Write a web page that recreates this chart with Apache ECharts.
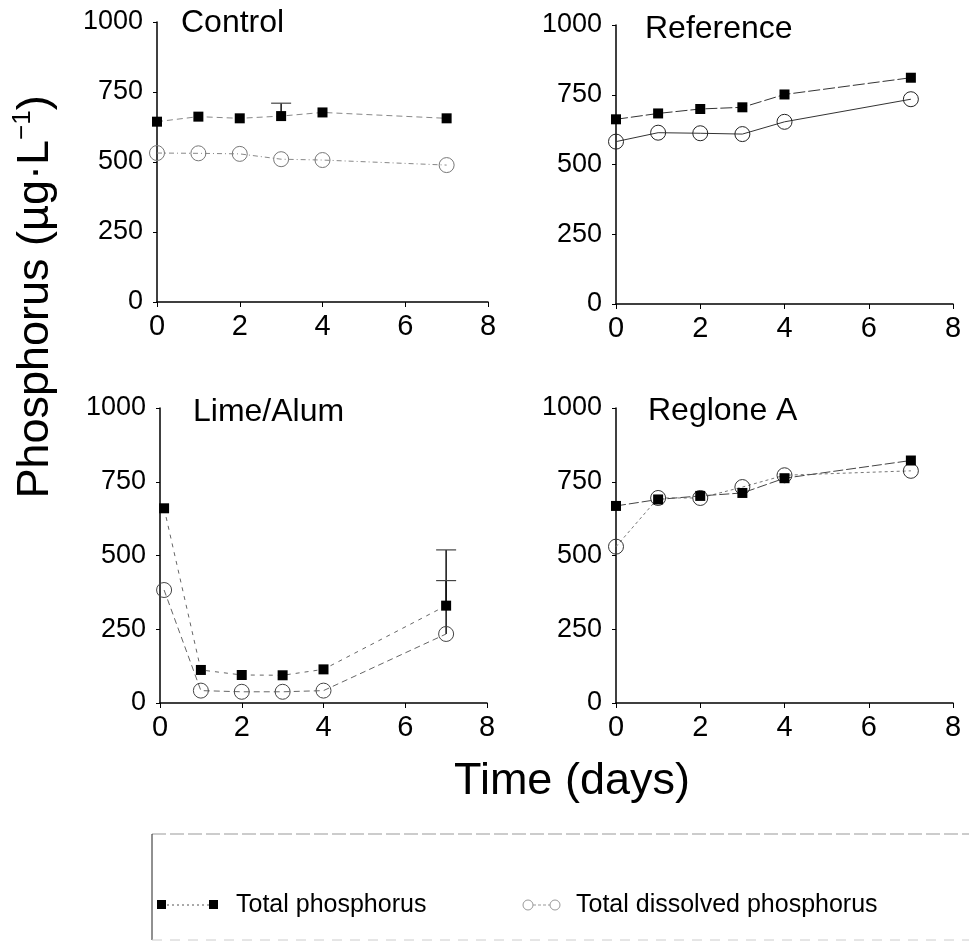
<!DOCTYPE html>
<html>
<head>
<meta charset="utf-8">
<script src="https://cdn.jsdelivr.net/npm/echarts@6/dist/echarts.min.js"></script>
<style>
html,body{margin:0;padding:0;background:#fff;}
#chart{width:969px;height:945px;}
</style>
</head>
<body>
<div id="chart"></div>
<script>
// ---- data ----
const days = [0, 1, 2, 3, 4, 7];
const limeDays = [0.1, 1, 2, 3, 4, 7];
const xTicks = [0, 2, 4, 6, 8];
const yTicks = [0, 250, 500, 750, 1000];
const panelNames = ['Control', 'Reference', 'Lime/Alum', 'Reglone A'];

const controlTP = [644, 662, 656, 664, 677, 656];
const controlTDP = [532, 531, 529, 510, 507, 489];
const referenceTP = [662, 683, 699, 705, 751, 811];
const referenceTDP = [582, 614, 612, 609, 653, 734];
const limeTP = [660, 112, 95, 94, 114, 330];
const limeTDP = [383, 42, 38, 38, 42, 234];
const regloneTP = [668, 690, 702, 712, 762, 822];
const regloneTDP = [530, 695, 695, 732, 772, 787];

// error bars: [day, mean, upper]
const controlErr = [[3, 664, 710]];
const limeErr = [[7, 330, 519], [7, 234, 415]];

const seriesNames = ['Total phosphorus', 'Total dissolved phosphorus'];

// ---- layout ----
const grids = [
  {left: 157, top: 22, width: 331, height: 280},
  {left: 616, top: 25, width: 337, height: 279},
  {left: 160, top: 408, width: 327, height: 295},
  {left: 616, top: 408, width: 337, height: 295}
];
const FONT = '"Liberation Sans", Arial, Helvetica, sans-serif';
const NARROW = '"Liberation Sans Narrow", "Liberation Sans", Arial, sans-serif';

const panels = [
  {x: days, tp: controlTP, tdp: controlTDP, err: controlErr, tpLine: {color: '#888', width: 1, type: [6, 4]}, tdpLine: {color: '#888', width: 1, type: [5, 3, 1, 3]}, circ: '#777'},
  {x: days, tp: referenceTP, tdp: referenceTDP, err: [], tpLine: {color: '#333', width: 1, type: [12, 3]}, tdpLine: {color: '#333', width: 1, type: 'solid'}, circ: '#222'},
  {x: limeDays, tp: limeTP, tdp: limeTDP, err: limeErr, tpLine: {color: '#666', width: 1, type: [4, 5]}, tdpLine: {color: '#666', width: 1, type: [6, 4]}, circ: '#444'},
  {x: days, tp: regloneTP, tdp: regloneTDP, err: [], tpLine: {color: '#444', width: 1, type: [10, 3]}, tdpLine: {color: '#777', width: 1, type: [3, 3]}, circ: '#333'}
];

const xAxes = [], yAxes = [], series = [], graphics = [];
grids.forEach((g, i) => {
  xAxes.push({
    gridIndex: i, type: 'value', min: xTicks[0], max: xTicks[xTicks.length - 1], interval: 2,
    axisLine: {show: true, onZero: false, lineStyle: {color: '#000', width: 1.5}},
    axisTick: {show: true, length: 5, lineStyle: {color: '#000', width: 1}},
    splitLine: {show: false},
    axisLabel: {color: '#000', fontSize: 29, fontFamily: FONT, margin: 10}
  });
  yAxes.push({
    gridIndex: i, type: 'value', min: yTicks[0], max: yTicks[yTicks.length - 1], interval: 250,
    axisLine: {show: true, onZero: false, lineStyle: {color: '#000', width: 1.5}},
    axisTick: {show: true, length: 4, lineStyle: {color: '#000', width: 1}},
    splitLine: {show: false},
    axisLabel: {color: '#000', fontSize: 27, fontFamily: FONT, margin: 14, formatter: v => String(v)}
  });
  const p = panels[i];
  series.push({
    name: seriesNames[0], type: 'line', xAxisIndex: i, yAxisIndex: i,
    data: p.x.map((d, k) => [d, p.tp[k]]),
    symbol: 'rect', symbolSize: 10, clip: false,
    itemStyle: {color: '#000'},
    lineStyle: p.tpLine, z: 4
  });
  series.push({
    name: seriesNames[1], type: 'line', xAxisIndex: i, yAxisIndex: i,
    data: p.x.map((d, k) => [d, p.tdp[k]]),
    symbol: 'circle', symbolSize: 15, clip: false,
    itemStyle: {color: 'rgba(255,255,255,0)', borderColor: p.circ, borderWidth: 1},
    lineStyle: p.tdpLine, z: 3
  });
  if (p.err.length) {
    series.push({
      type: 'custom', xAxisIndex: i, yAxisIndex: i, data: p.err, z: 2,
      renderItem: function (params, api) {
        const a = api.coord([api.value(0), api.value(1)]);
        const b = api.coord([api.value(0), api.value(2)]);
        return {type: 'group', children: [
          {type: 'line', shape: {x1: a[0], y1: a[1], x2: b[0], y2: b[1]}, style: {stroke: '#111', lineWidth: 1.5}},
          {type: 'line', shape: {x1: b[0] - 10, y1: b[1], x2: b[0] + 10, y2: b[1]}, style: {stroke: '#444', lineWidth: 1.2}}
        ]};
      }
    });
  }
  const titlePos = [[181, 24], [645, 30], [193, 413], [648, 412]][i];
  graphics.push({type: 'text', left: titlePos[0], top: titlePos[1] - 17,
    style: {text: panelNames[i], fontSize: 32, fontFamily: FONT, fill: '#000'}});
});

// axis titles
graphics.push({type: 'text', x: 572, y: 782, style: {text: 'Time (days)', fontSize: 45, fontFamily: FONT, fill: '#000', align: 'center', verticalAlign: 'middle'}});
graphics.push({type: 'text', x: 31, y: 297, rotation: Math.PI / 2,
  style: {text: '{a|Phosphorus (µg·L}{s|−1}{a|)}', align: 'center', verticalAlign: 'middle', fill: '#000',
    rich: {a: {fontSize: 45, fontFamily: FONT, lineHeight: 54, verticalAlign: 'bottom'},
           s: {fontSize: 26, fontFamily: FONT, lineHeight: 54, verticalAlign: 'top', padding: [6, 0, 0, 0]}}}});

// legend box
graphics.push({type: 'line', shape: {x1: 152, y1: 834, x2: 969, y2: 834}, style: {stroke: '#999', lineWidth: 1, lineDash: [14, 4]}});
graphics.push({type: 'line', shape: {x1: 152, y1: 834, x2: 152, y2: 940}, style: {stroke: '#222', lineWidth: 1}});
graphics.push({type: 'line', shape: {x1: 152, y1: 940, x2: 969, y2: 940}, style: {stroke: '#ccc', lineWidth: 1, lineDash: [10, 8]}});
// legend items
graphics.push({type: 'line', shape: {x1: 162, y1: 905, x2: 213, y2: 905}, style: {stroke: '#555', lineWidth: 1, lineDash: [2, 3]}});
graphics.push({type: 'rect', shape: {x: 157, y: 900, width: 9, height: 9}, style: {fill: '#000'}});
graphics.push({type: 'rect', shape: {x: 209, y: 900, width: 9, height: 9}, style: {fill: '#000'}});
graphics.push({type: 'text', x: 236, y: 905, style: {text: seriesNames[0], fontSize: 25, fontFamily: NARROW, fill: '#000', verticalAlign: 'middle'}});
graphics.push({type: 'line', shape: {x1: 533, y1: 905, x2: 550, y2: 905}, style: {stroke: '#999', lineWidth: 1, lineDash: [3, 2]}});
graphics.push({type: 'circle', shape: {cx: 528, cy: 905, r: 5}, style: {fill: '#fff', stroke: '#999', lineWidth: 1}});
graphics.push({type: 'circle', shape: {cx: 555, cy: 905, r: 5}, style: {fill: '#fff', stroke: '#999', lineWidth: 1}});
graphics.push({type: 'text', x: 576, y: 905, style: {text: seriesNames[1], fontSize: 25, fontFamily: NARROW, fill: '#000', verticalAlign: 'middle'}});

const chart = echarts.init(document.getElementById('chart'), null, {renderer: 'canvas'});
chart.setOption({
  backgroundColor: '#fff',
  animation: false,
  grid: grids.map(g => Object.assign({containLabel: false}, g)),
  xAxis: xAxes,
  yAxis: yAxes,
  series: series,
  graphic: graphics
});
</script>
</body>
</html>
